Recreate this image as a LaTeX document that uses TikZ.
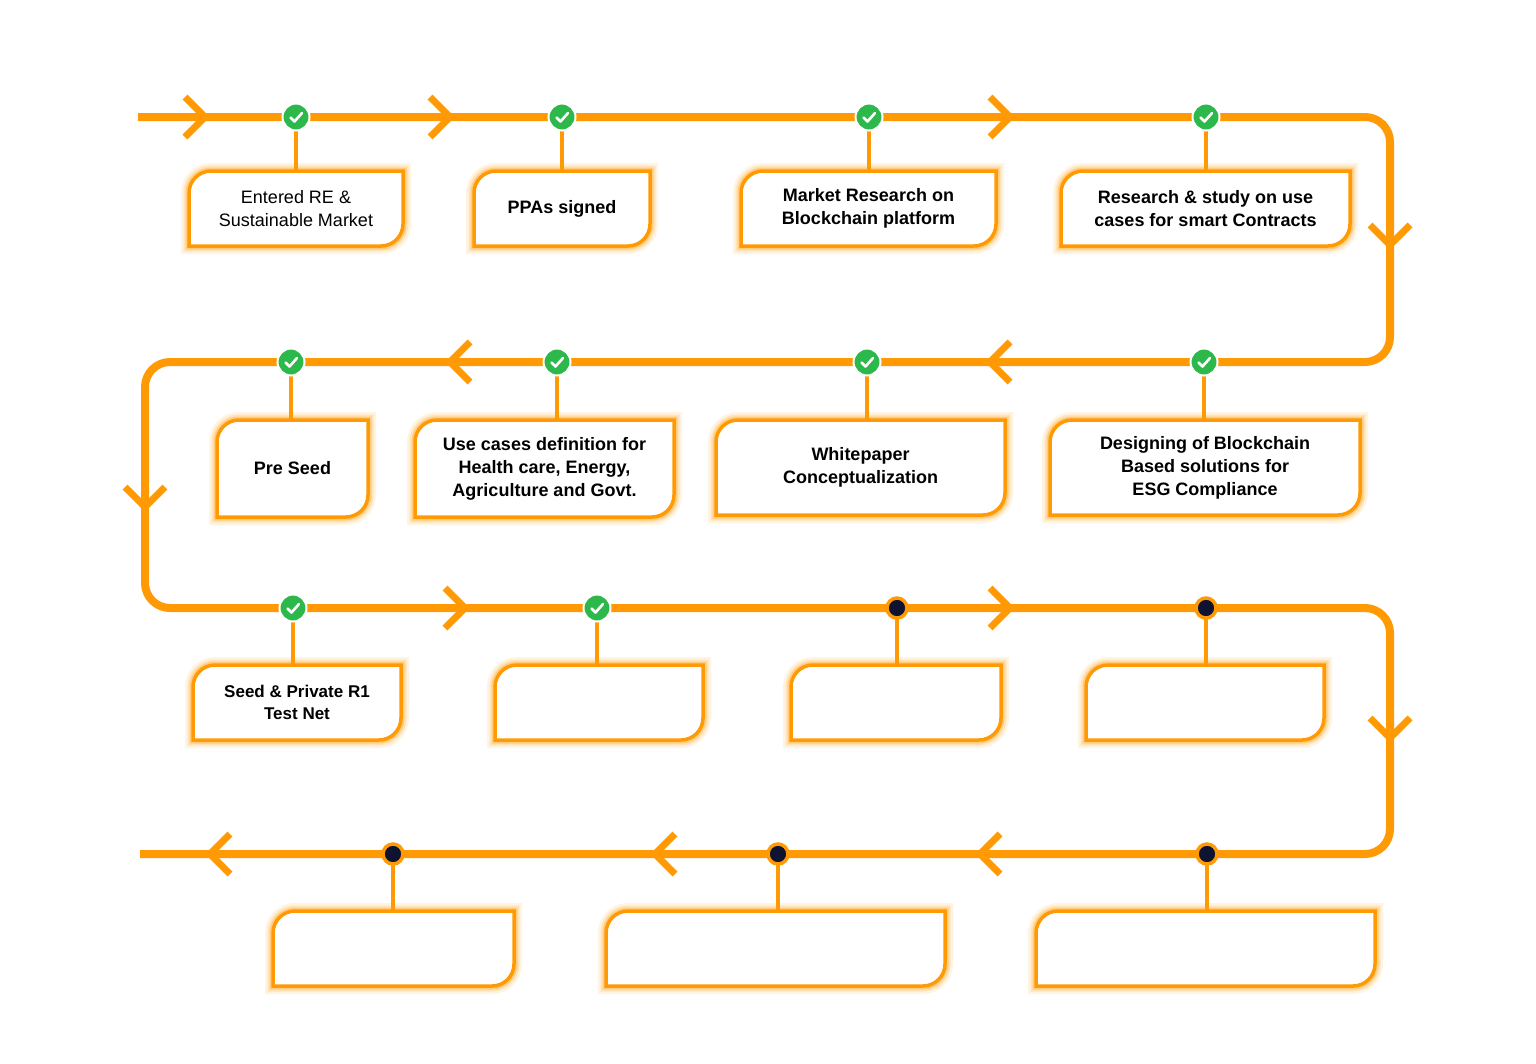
\documentclass[tikz,border=0pt]{standalone}
\usepackage{fontspec}
\setmainfont{Liberation Sans}
\begin{document}
\definecolor{org}{HTML}{FF9A05}
\definecolor{chk}{HTML}{2DB84B}
\definecolor{dotc}{HTML}{0D1330}
\begin{tikzpicture}[x=1pt,y=-1pt,
  track/.style={org,line width=8pt},
  stem/.style={org,line width=3.5pt},
  chev/.style={org,line width=7pt},
  txt/.style={font=\fontsize{18}{23}\selectfont\bfseries,align=center,text=black},
  txtn/.style={font=\fontsize{18}{23}\selectfont,align=center,text=black},
  done/.style={circle,fill=chk,draw=white,line width=2pt,minimum size=27pt,inner sep=0pt},
  todo/.style={circle,fill=dotc,draw=org,line width=3.5pt,minimum size=20pt,inner sep=0pt}]
\useasboundingbox (0,0) rectangle (1536,1063);
\newcommand\rbx[5]{%
  \foreach \w/\o in {16/0.12,11/0.18,7/0.3}{
    \draw[org,opacity=\o,line width=\w pt] (#1,#4) [rounded corners=22pt]-- (#1,#2) [sharp corners]-- (#3,#2) [rounded corners=22pt]-- (#3,#4) [sharp corners]-- cycle;}
  \draw[org,fill=white,line width=3.5pt] (#1,#4) [rounded corners=22pt]-- (#1,#2) [sharp corners]-- (#3,#2) [rounded corners=22pt]-- (#3,#4) [sharp corners]-- cycle;
  \coordinate (#5) at ({(#1+#3)/2},{(#2+#4)/2});}
% track
\draw[track,line join=round] (138,117) -- (1365,117) arc[start angle=-90,end angle=0,radius=25] -- (1390,337)
  arc[start angle=0,end angle=90,radius=25] -- (170,362) arc[start angle=270,end angle=180,radius=25]
  -- (145,583) arc[start angle=180,end angle=90,radius=25] -- (1365,608)
  arc[start angle=-90,end angle=0,radius=25] -- (1390,829) arc[start angle=0,end angle=90,radius=25] -- (140,854);
% chevrons
\foreach \x in {195,440,1000} \draw[chev] (\x-10,97) -- (\x+10,117) -- (\x-10,137);
\foreach \x in {455,1000} \draw[chev] (\x-10,588) -- (\x+10,608) -- (\x-10,628);
\foreach \x in {460,1000} \draw[chev] (\x+10,342) -- (\x-10,362) -- (\x+10,382);
\foreach \x in {220,665,990} \draw[chev] (\x+10,834) -- (\x-10,854) -- (\x+10,874);
\draw[chev] (1370,225) -- (1390,245) -- (1410,225);
\draw[chev] (1370,718) -- (1390,738) -- (1410,718);
\draw[chev] (125,487) -- (145,507) -- (165,487);
% boxes
\rbx{189}{171}{403}{246}{b1}
\rbx{474}{171}{650}{246}{b2}
\rbx{741}{171}{996}{246}{b3}
\rbx{1061}{171}{1350}{246}{b4}
\rbx{217}{420}{368}{517}{b5}
\rbx{415}{420}{674}{517}{b6}
\rbx{716}{420}{1005}{515}{b7}
\rbx{1050}{420}{1360}{515}{b8}
\rbx{193}{665}{401}{740}{b9}
\rbx{495}{665}{703}{740}{b10}
\rbx{791}{665}{1001}{740}{b11}
\rbx{1086}{665}{1324}{740}{b12}
\rbx{273}{911}{514}{986}{b13}
\rbx{606}{911}{945}{986}{b14}
\rbx{1036}{911}{1375}{986}{b15}
% box tops
\foreach \n/\x/\y in {1/296/171,2/562/171,3/869/171,4/1206/171,5/291/420,6/557/420,7/867/420,8/1204/420,
  9/293/665,10/597/665,11/897/665,12/1206/665,13/393/911,14/778/911,15/1207/911}
  \coordinate (t\n) at (\x,\y);
% markers
\foreach \n/\x/\y in {1/296/117,2/562/117,3/869/117,4/1206/117,5/291/362,6/557/362,7/867/362,8/1204/362,9/293/608,10/597/608}{
  \draw[stem] (\x,\y) -- (t\n);
  \node[done] (m\n) at (\x,\y) {};
  \draw[white,line width=2.6pt,line cap=round,line join=round] ([shift={(-5.5,0.5)}]m\n.center) -- ([shift={(-1.5,4.5)}]m\n.center) -- ([shift={(6,-4)}]m\n.center);}
\foreach \n/\x/\y in {11/897/608,12/1206/608,13/393/854,14/778/854,15/1207/854}{
  \draw[stem] (\x,\y) -- (t\n);
  \node[todo] (m\n) at (\x,\y) {};}
% texts
\node[txtn] at (b1) {Entered RE \&\\Sustainable Market};
\node[txt] at (b2) {PPAs signed};
\node[txt] at (b3) {Market Research on\\Blockchain platform};
\node[txt] at (b4) {Research \& study on use\\cases for smart Contracts};
\node[txt] at (b5) {Pre Seed};
\node[txt] at (b6) {Use cases definition for\\Health care, Energy,\\Agriculture and Govt.};
\node[txt] at (b7) {Whitepaper\\Conceptualization};
\node[txt] at (b8) {Designing of Blockchain\\Based solutions for\\ESG Compliance};
\node[txt,font=\fontsize{17}{22}\selectfont\bfseries] at (b9) {Seed \& Private R1\\Test Net};
\end{tikzpicture}
\end{document}
